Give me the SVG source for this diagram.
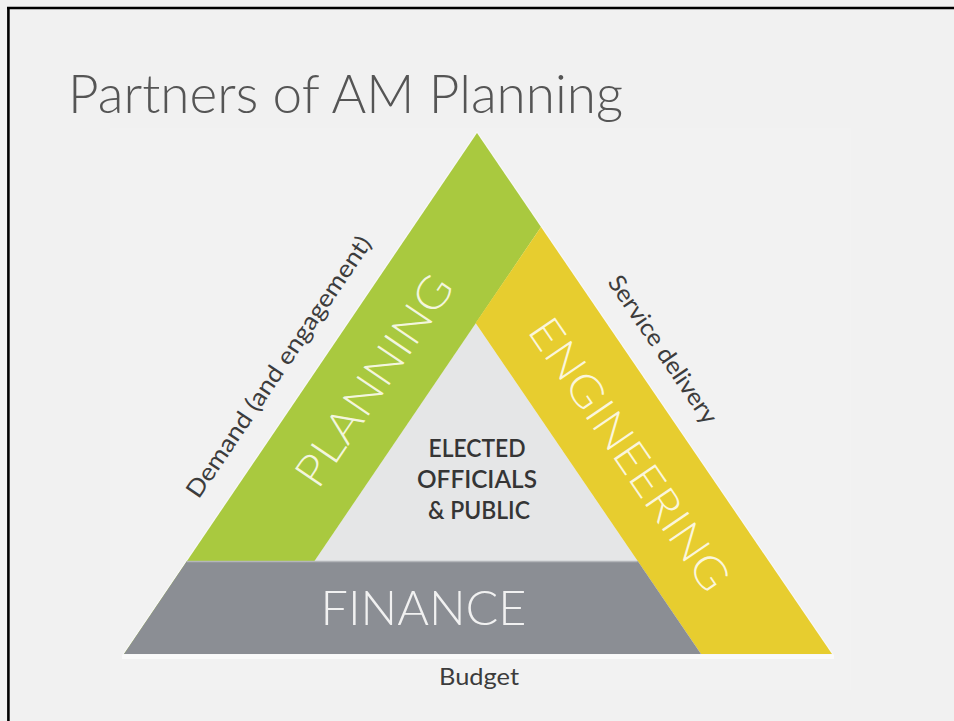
<svg xmlns="http://www.w3.org/2000/svg" width="954" height="721" viewBox="0 0 954 721">
  <style>
    .f { font-family: Lato, "Open Sans", "Liberation Sans", sans-serif; }
    .lt { font-weight: 300; }
    .title { font-size: 54px; fill: #555555; }
    .band { font-size: 44px; }
    .side { font-size: 24px; fill: #3c3c3c; }
    .center { font-size: 25px; font-weight: 600; fill: #353535; }
  </style>
  <rect x="0" y="0" width="954" height="721" fill="#f1f1f1"/>
  <rect x="110" y="128" width="741" height="562" fill="#f2f2f2"/>
  <line x1="7" y1="8" x2="954" y2="8" stroke="#000" stroke-width="2.6"/>
  <line x1="8.4" y1="7" x2="8.4" y2="721" stroke="#000" stroke-width="2.6"/>

  <text id="title" class="f lt title" x="68" y="113" textLength="555" lengthAdjust="spacingAndGlyphs">Partners of AM Planning</text>

  <g id="triangle-base">
    <polygon points="477,131 834,655 122,655" fill="#f8f8f8"/>
    <line x1="122" y1="657" x2="834" y2="657" stroke="#fafafa" stroke-width="4"/>
  </g>

  <g id="center">
    <polygon points="475.6,323 637.7,561 314.4,561" fill="#e5e6e7"/>
    <text class="f center" x="477" y="457" text-anchor="middle" textLength="97" lengthAdjust="spacingAndGlyphs">ELECTED</text>
    <text class="f center" x="477" y="488" text-anchor="middle" textLength="120" lengthAdjust="spacingAndGlyphs">OFFICIALS</text>
    <text class="f center" x="479" y="519" text-anchor="middle" textLength="102" lengthAdjust="spacingAndGlyphs">&amp; PUBLIC</text>
  </g>

  <g id="planning">
    <polygon points="477,133 541,227 251.4,654 124,654" fill="#a9c93f"/>
    <text class="f lt band" transform="translate(373.4,380) rotate(-55.9)" x="0" y="16" text-anchor="middle" fill="#f3f6de" textLength="245" lengthAdjust="spacingAndGlyphs">PLANNING</text>
  </g>

  <g id="engineering">
    <polygon points="541,227 832,654 701,654 475.6,323" fill="#e7cd2f"/>
    <text class="f lt band" transform="translate(630,454) rotate(55.7)" x="0" y="16" text-anchor="middle" fill="#fbf6dc" textLength="320" lengthAdjust="spacingAndGlyphs">ENGINEERING</text>
  </g>

  <g id="finance">
    <polygon points="187,561 637.7,561 701,654 124,654" fill="#8b8e94"/>
    <line x1="187" y1="561.5" x2="637.7" y2="561.5" stroke="#b4b6ba" stroke-width="1.5"/>
    <text class="f lt" x="423.5" y="625" text-anchor="middle" font-size="48" fill="#f1f1f1" textLength="206" lengthAdjust="spacingAndGlyphs">FINANCE</text>
  </g>

  <g id="connectors"></g>

  <g id="labels">
    <text class="f side" transform="translate(285.5,371.5) rotate(-55.9)" x="0" y="0" text-anchor="middle" textLength="310" lengthAdjust="spacingAndGlyphs">Demand (and engagement)</text>
    <text class="f side" transform="translate(656,354) rotate(55.7)" x="0" y="0" text-anchor="middle" textLength="174" lengthAdjust="spacingAndGlyphs">Service delivery</text>
    <text class="f side" x="479" y="685" text-anchor="middle" font-size="26" textLength="80" lengthAdjust="spacingAndGlyphs">Budget</text>
  </g>
</svg>
